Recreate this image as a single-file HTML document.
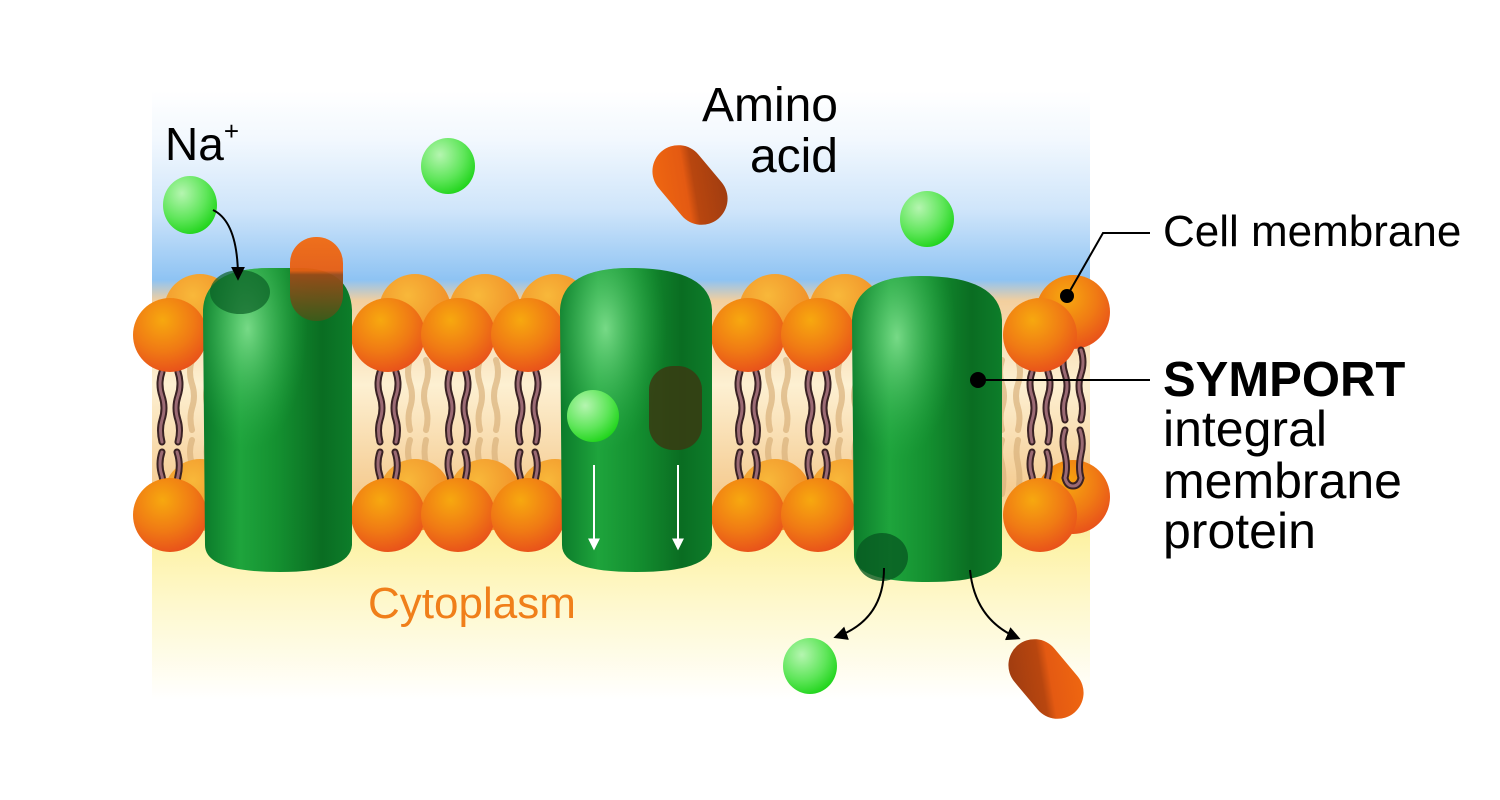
<!DOCTYPE html>
<html><head><meta charset="utf-8"><style>
html,body{margin:0;padding:0;background:#fff;}
svg{display:block;}
text{font-family:"Liberation Sans",Arial,sans-serif;}
</style></head><body>
<svg width="1500" height="800" viewBox="0 0 1500 800" xmlns="http://www.w3.org/2000/svg">
<defs>
<linearGradient id="bg" x1="0" y1="0" x2="0" y2="700" gradientUnits="userSpaceOnUse">
<stop offset="0" stop-color="#fff"/>
<stop offset="0.13" stop-color="#fff"/>
<stop offset="0.2" stop-color="#f2f8fe"/>
<stop offset="0.3" stop-color="#cfe5fa"/>
<stop offset="0.4" stop-color="#8ec3f3"/>
<stop offset="0.43" stop-color="#f3cf9e"/>
<stop offset="0.55" stop-color="#fdf0d2"/>
<stop offset="0.7" stop-color="#f5cc92"/>
<stop offset="0.77" stop-color="#fdf2a5"/>
<stop offset="0.86" stop-color="#fef8cc"/>
<stop offset="1" stop-color="#fff"/>
</linearGradient>
<radialGradient id="head" cx="0.4" cy="0.3" r="0.7">
<stop offset="0" stop-color="#f7a80f"/>
<stop offset="0.6" stop-color="#f07a14"/>
<stop offset="1" stop-color="#e9541a"/>
</radialGradient>
<radialGradient id="headb" cx="0.4" cy="0.3" r="0.7">
<stop offset="0" stop-color="#f8b83a"/>
<stop offset="1" stop-color="#f08a26"/>
</radialGradient>
<radialGradient id="ball" cx="0.35" cy="0.3" r="0.75">
<stop offset="0" stop-color="#b5f5b0"/>
<stop offset="0.6" stop-color="#5fe65a"/>
<stop offset="1" stop-color="#1fd41a"/>
</radialGradient>
<linearGradient id="prot" x1="0" y1="0" x2="1" y2="0">
<stop offset="0" stop-color="#0b7a2a"/>
<stop offset="0.25" stop-color="#1ea43c"/>
<stop offset="0.5" stop-color="#149030"/>
<stop offset="0.8" stop-color="#0a6d22"/>
<stop offset="1" stop-color="#0d7d2a"/>
</linearGradient>
<radialGradient id="protHi" cx="0.3" cy="0.2" r="0.4">
<stop offset="0" stop-color="#8ee89a" stop-opacity="0.8"/>
<stop offset="1" stop-color="#2ab04a" stop-opacity="0"/>
</radialGradient>
<linearGradient id="cap" x1="0" y1="0" x2="1" y2="1">
<stop offset="0" stop-color="#f26a10"/>
<stop offset="0.45" stop-color="#e45a12"/>
<stop offset="0.55" stop-color="#b8460f"/>
<stop offset="1" stop-color="#9a3a10"/>
</linearGradient>
<linearGradient id="capv" x1="0" y1="0" x2="0" y2="1">
<stop offset="0" stop-color="#f26a10"/>
<stop offset="0.4" stop-color="#e85e12"/>
<stop offset="0.45" stop-color="#9a4a18"/>
<stop offset="1" stop-color="#3d5a1a"/>
</linearGradient>
<marker id="ah" viewBox="0 0 10 10" refX="8" refY="5" markerWidth="7" markerHeight="7" orient="auto"><path d="M0,0 L10,5 L0,10 z" fill="#000"/></marker>
<marker id="aw" viewBox="0 0 10 10" refX="8" refY="5" markerWidth="6" markerHeight="6" orient="auto"><path d="M0,0 L10,5 L0,10 z" fill="#fff"/></marker>
<g id="tail">
<path d="M-8,72 q-4,12 0,24 q4,12 0,24 q-3,10 0,22 M8,72 q4,12 0,24 q-4,12 0,24 q3,10 0,22 M-8,152 q-4,12 0,24 q3,14 0,24 q2,8 8,8 q6,0 8,-8 q-3,-10 0,-24 q3,-12 -1,-24" fill="none" stroke="#3a2224" stroke-width="7" stroke-linecap="round"/>
<path d="M-8,72 q-4,12 0,24 q4,12 0,24 q-3,10 0,22 M8,72 q4,12 0,24 q-4,12 0,24 q3,10 0,22 M-8,152 q-4,12 0,24 q3,14 0,24 q2,8 8,8 q6,0 8,-8 q-3,-10 0,-24 q3,-12 -1,-24" fill="none" stroke="#9b6a74" stroke-width="3" stroke-linecap="round"/>
</g>
<g id="ftail">
<path d="M-8,60 q-4,12 0,24 q4,12 0,24 q-3,10 0,22 M8,60 q4,12 0,24 q-4,12 0,24 q3,10 0,22 M-8,140 q-4,12 0,24 q3,14 0,30 M8,140 q-3,12 0,24 q3,14 0,30" fill="none" stroke="#d9b07a" stroke-width="6" stroke-linecap="round" opacity="0.7"/>
</g>
</defs>

<rect x="152" y="0" width="938" height="700" fill="url(#bg)"/>

<!-- faint back tails -->
<g>
<use href="#ftail" x="418" y="300"/><use href="#ftail" x="488" y="300"/><use href="#ftail" x="778" y="300"/><use href="#ftail" x="848" y="300"/><use href="#ftail" x="1010" y="300"/><use href="#ftail" x="200" y="300"/>
</g>
<!-- back heads -->
<g fill="url(#headb)">
<circle cx="200" cy="310" r="36"/><circle cx="415" cy="310" r="36"/><circle cx="485" cy="310" r="36"/><circle cx="555" cy="310" r="36"/><circle cx="775" cy="310" r="36"/><circle cx="845" cy="310" r="36"/>
<circle cx="200" cy="495" r="36"/><circle cx="415" cy="495" r="36"/><circle cx="485" cy="495" r="36"/><circle cx="555" cy="495" r="36"/><circle cx="775" cy="495" r="36"/><circle cx="845" cy="495" r="36"/>
</g>
<circle cx="1073" cy="312" r="37" fill="url(#head)"/>
<circle cx="1073" cy="497" r="37" fill="url(#head)"/>
<use href="#tail" x="1073" y="278"/>
<!-- front tails -->
<use href="#tail" x="170" y="300"/><use href="#tail" x="388" y="300"/><use href="#tail" x="458" y="300"/><use href="#tail" x="528" y="300"/><use href="#tail" x="748" y="300"/><use href="#tail" x="818" y="300"/><use href="#tail" x="1040" y="300"/>
<!-- front heads -->
<g fill="url(#head)">
<circle cx="170" cy="335" r="37"/><circle cx="388" cy="335" r="37"/><circle cx="458" cy="335" r="37"/><circle cx="528" cy="335" r="37"/><circle cx="748" cy="335" r="37"/><circle cx="818" cy="335" r="37"/><circle cx="1040" cy="335" r="37"/>
<circle cx="170" cy="515" r="37"/><circle cx="388" cy="515" r="37"/><circle cx="458" cy="515" r="37"/><circle cx="528" cy="515" r="37"/><circle cx="748" cy="515" r="37"/><circle cx="818" cy="515" r="37"/><circle cx="1040" cy="515" r="37"/>
</g>

<!-- protein 1 -->
<path d="M203,310 Q205,268 270,268 L300,268 Q350,268 352,310 L352,545 Q350,572 280,572 Q205,572 205,545 Z" fill="url(#prot)"/>
<path d="M203,310 Q205,268 270,268 L300,268 Q350,268 352,310 L352,545 Q350,572 280,572 Q205,572 205,545 Z" fill="url(#protHi)"/>
<ellipse cx="240" cy="292" rx="30" ry="22" fill="#0a5e25" opacity="0.7"/>
<rect x="290" y="237" width="53" height="84" rx="26" fill="url(#capv)" opacity="0.95"/>
<!-- protein 2 -->
<path d="M560,310 Q562,268 630,268 Q710,268 712,310 L712,545 Q710,572 636,572 Q562,572 562,545 Z" fill="url(#prot)"/>
<path d="M560,310 Q562,268 630,268 Q710,268 712,310 L712,545 Q710,572 636,572 Q562,572 562,545 Z" fill="url(#protHi)"/>
<circle cx="593" cy="416" r="26" fill="url(#ball)"/>
<rect x="649" y="366" width="53" height="84" rx="24" fill="#3a3a12" opacity="0.85"/>
<line x1="594" y1="465" x2="594" y2="548" stroke="#fff" stroke-width="2" marker-end="url(#aw)"/>
<line x1="678" y1="465" x2="678" y2="548" stroke="#fff" stroke-width="2" marker-end="url(#aw)"/>
<!-- protein 3 -->
<path d="M852,320 Q855,276 920,276 Q1000,276 1002,320 L1002,555 Q1000,582 928,582 Q854,582 854,555 Z" fill="url(#prot)"/>
<path d="M852,320 Q855,276 920,276 Q1000,276 1002,320 L1002,555 Q1000,582 928,582 Q854,582 854,555 Z" fill="url(#protHi)"/>
<ellipse cx="882" cy="557" rx="26" ry="24" fill="#075a22" opacity="0.8"/>

<!-- free molecules -->
<ellipse cx="190" cy="205" rx="27" ry="29" fill="url(#ball)"/>
<ellipse cx="448" cy="166" rx="27" ry="28" fill="url(#ball)"/>
<ellipse cx="927" cy="219" rx="27" ry="28" fill="url(#ball)"/>
<ellipse cx="810" cy="666" rx="27" ry="28" fill="url(#ball)"/>
<rect x="-26" y="-44" width="52" height="88" rx="26" fill="url(#cap)" transform="translate(690,185) rotate(-40)"/>
<rect x="-26" y="-44" width="52" height="88" rx="26" fill="url(#cap)" transform="translate(1046,679) rotate(140)"/>

<!-- arrows -->
<path d="M213,210 Q238,222 238,278" fill="none" stroke="#000" stroke-width="2" marker-end="url(#ah)"/>
<path d="M884,568 Q884,620 836,637" fill="none" stroke="#000" stroke-width="2" marker-end="url(#ah)"/>
<path d="M970,570 Q975,620 1018,638" fill="none" stroke="#000" stroke-width="2" marker-end="url(#ah)"/>

<!-- leaders -->
<circle cx="1067" cy="296" r="7" fill="#000"/>
<polyline points="1067,296 1103,233 1150,233" fill="none" stroke="#000" stroke-width="2"/>
<circle cx="978" cy="380" r="8" fill="#000"/>
<line x1="978" y1="380" x2="1150" y2="380" stroke="#000" stroke-width="2"/>

<!-- text -->
<text x="165" y="160" font-size="46">Na<tspan font-size="26" dy="-20">+</tspan></text>
<text x="838" y="121" font-size="48" text-anchor="end">Amino</text>
<text x="838" y="172" font-size="48" text-anchor="end">acid</text>
<text x="1163" y="246" font-size="44">Cell membrane</text>
<text x="1163" y="396" font-size="49" font-weight="bold">SYMPORT</text>
<text x="1163" y="446" font-size="50">integral</text>
<text x="1163" y="498" font-size="50">membrane</text>
<text x="1163" y="548" font-size="50">protein</text>
<text x="368" y="618" font-size="44" fill="#f07f1a">Cytoplasm</text>
</svg>
</body></html>
